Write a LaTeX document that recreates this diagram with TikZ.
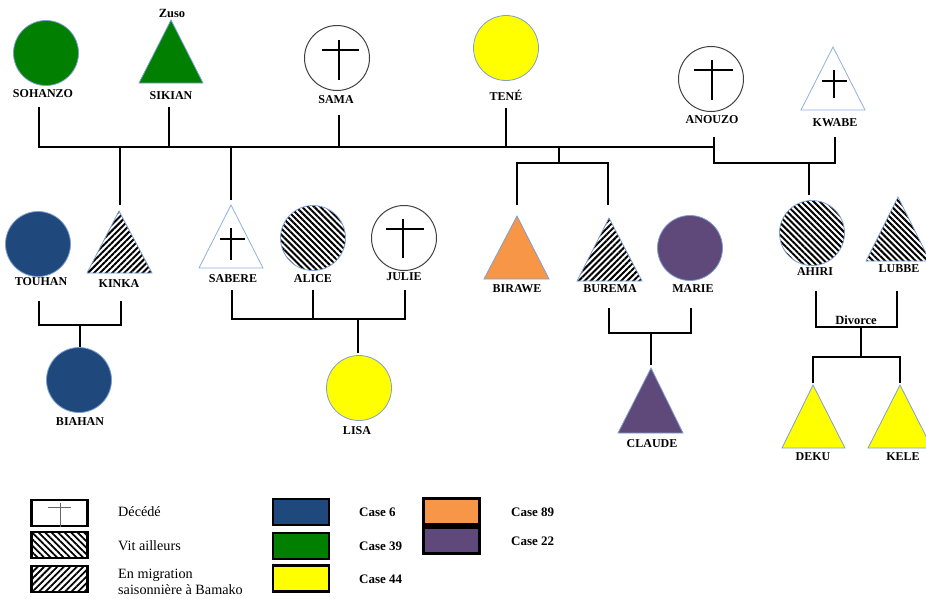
\documentclass[tikz,border=0pt]{standalone}
\usepackage{fontspec}
\setmainfont{Liberation Serif}
\usetikzlibrary{patterns.meta}
\definecolor{caseblue}{HTML}{1F497D}
\definecolor{casegreen}{HTML}{007F00}
\definecolor{caseyellow}{HTML}{FFFF00}
\definecolor{caseorange}{HTML}{F79646}
\definecolor{casepurple}{HTML}{5F497A}
\definecolor{outl}{HTML}{7F9FD0}
\definecolor{triout}{HTML}{8EB0DE}
\begin{document}
\begin{tikzpicture}[x=1pt,y=-1pt,
  link/.style={line width=2.6pt, black, line join=miter},
  lbl/.style={font=\fontsize{12}{12}\selectfont\bfseries, inner sep=0},
  note/.style={font=\fontsize{12.5}{13}\selectfont\bfseries, inner sep=0},
  legtxt/.style={font=\fontsize{14.2}{16}\selectfont, inner sep=0, anchor=west, align=left},
  casetxt/.style={font=\fontsize{13}{14}\selectfont\bfseries, inner sep=0, anchor=west},
  person/.style={circle, minimum size=65pt, inner sep=0, draw=outl, line width=0.8pt},
  dead/.style={person, draw=black!75, line width=1pt, fill=white},
  tri/.style={draw=outl, line width=0.8pt, line join=miter},
  crossline/.style={line width=2.8pt, black},
  hatchnw/.style={pattern={Lines[angle=-45,distance=4.3pt,line width=2pt]}},
  hatchne/.style={pattern={Lines[angle=45,distance=4.3pt,line width=2pt]}},
  leghatchnw/.style={pattern={Lines[angle=-45,distance=4.6pt,line width=1.8pt]}},
  leghatchne/.style={pattern={Lines[angle=45,distance=4.6pt,line width=1.8pt]}},
  legbox/.style={draw=black, line width=2.4pt, minimum width=56pt, minimum height=26pt, inner sep=0}
]
\useasboundingbox (0,0) rectangle (926,598);

% ---------- generation 1 ----------
\node[person, fill=casegreen] (sohanzo) at (46,53) {};
\node[lbl] (sohanzoL) at (43,94) {SOHANZO};

\draw[tri, fill=casegreen] (171,20) -- (139,83) -- (203,83) -- cycle;
\coordinate (sikian) at (171,60);
\node[note] (zuso) at (172,13) {Zuso};
\node[lbl] (sikianL) at (171,96) {SIKIAN};

\node[dead] (sama) at (337,58) {};
\draw[crossline] (339,40) -- (339,80) (322,50) -- (359,50);
\node[lbl] (samaL) at (336,100) {SAMA};

\node[person, fill=caseyellow] (tene) at (506,48) {};
\node[lbl] (teneL) at (506,95) {TENÉ};

\node[dead] (anouzo) at (711,79) {};
\draw[crossline] (712,60) -- (712,100) (694,70) -- (733,70);
\node[lbl] (anouzoL) at (712,120) {ANOUZO};

\draw[tri, draw=triout, fill=white] (833,47) -- (801,110) -- (865,110) -- cycle;
\coordinate (kwabe) at (833,87);
\draw[crossline] (834,70) -- (834,98) (822,81) -- (847,81);
\node[lbl] (kwabeL) at (835,123) {KWABE};

% ---------- generation 2 ----------
\node[person, fill=caseblue] (touhan) at (38,244) {};
\node[lbl] (touhanL) at (41,282) {TOUHAN};

\draw[tri, hatchne] (119,211) -- (87,273) -- (152,273) -- cycle;
\coordinate (kinka) at (119,250);
\node[lbl] (kinkaL) at (119,284) {KINKA};

\draw[tri, draw=triout, fill=white] (231,205) -- (199,268) -- (263,268) -- cycle;
\coordinate (sabere) at (231,245);
\draw[crossline] (231,228) -- (231,260) (220,239) -- (245,239);
\node[lbl] (sabereL) at (233,279) {SABERE};

\node[person, hatchnw] (alice) at (313,238) {};
\node[lbl] (aliceL) at (313,279) {ALICE};

\node[dead] (julie) at (404,238) {};
\draw[crossline] (403,219) -- (403,258) (386,229) -- (424,229);
\node[lbl] (julieL) at (404,277) {JULIE};

\draw[tri, fill=caseorange] (517,216) -- (484,279) -- (549,279) -- cycle;
\coordinate (birawe) at (517,255);
\node[lbl] (biraweL) at (517,289) {BIRAWE};

\draw[tri, hatchne] (609,218) -- (577,281) -- (642,281) -- cycle;
\coordinate (burema) at (609,257);
\node[lbl] (buremaL) at (610,289) {BUREMA};

\node[person, fill=casepurple] (marie) at (690,248) {};
\node[lbl] (marieL) at (693,289) {MARIE};

\node[person, hatchnw] (ahiri) at (812,233) {};
\node[lbl] (ahiriL) at (815,272) {AHIRI};

\draw[tri, hatchnw] (898,197) -- (866,261) -- (930,261) -- cycle;
\coordinate (lubbe) at (898,236);
\node[lbl] (lubbeL) at (899,269) {LUBBE};

% ---------- generation 3 ----------
\node[person, fill=caseblue] (biahan) at (79,380) {};
\node[lbl] (biahanL) at (80,422) {BIAHAN};

\node[person, fill=caseyellow] (lisa) at (359,388) {};
\node[lbl] (lisaL) at (357,431) {LISA};

\draw[tri, fill=casepurple] (651,368) -- (618,433) -- (683,433) -- cycle;
\coordinate (claude) at (651,408);
\node[lbl] (claudeL) at (652,444) {CLAUDE};

\draw[tri, fill=caseyellow] (813,385) -- (782,448) -- (845,448) -- cycle;
\coordinate (deku) at (813,424);
\node[lbl] (dekuL) at (813,457) {DEKU};

\draw[tri, fill=caseyellow] (900,385) -- (868,448) -- (932,448) -- cycle;
\coordinate (kele) at (900,424);
\node[lbl] (keleL) at (903,457) {KELE};

\node[note] (divorce) at (856,320) {Divorce};

% ---------- connectors ----------
\coordinate (c-soh) at (39,107);
\coordinate (c-sik) at (169,107);
\coordinate (c-sama) at (339,115);
\coordinate (c-tene) at (506,108);
\coordinate (c-anou) at (714,137);
\coordinate (c-kwa) at (835,137);
\coordinate (j-main) at (714,147);
\coordinate (j-ak) at (714,163);
\coordinate (d-kinka) at (120,205);
\coordinate (d-sabere) at (231,200);
\coordinate (j-sib0) at (559,147);
\coordinate (j-sib) at (559,163);
\coordinate (d-birawe) at (517,205);
\coordinate (d-burema) at (608,205);
\coordinate (j-ahiri) at (809,163);
\coordinate (d-ahiri) at (809,195);

\draw[link] (c-soh) |- (j-main);
\draw[link] (c-sik) -- (c-sik |- j-main);
\draw[link] (c-sama) -- (c-sama |- j-main);
\draw[link] (c-tene) -- (c-tene |- j-main);
\draw[link] (c-anou) -- (j-ak) -| (c-kwa);
\draw[link] (d-kinka |- j-main) -- (d-kinka);
\draw[link] (d-sabere |- j-main) -- (d-sabere);
\draw[link] (j-sib0) -- (j-sib);
\draw[link] (d-birawe) |- (j-sib) -| (d-burema);
\draw[link] (j-ahiri) -- (d-ahiri);

% couple Touhan - Kinka
\coordinate (c-tou) at (39,301);
\coordinate (c-kin) at (121,301);
\coordinate (j-tk) at (80,325);
\coordinate (d-bia) at (80,347);
\draw[link] (c-tou) |- (j-tk) -| (c-kin);
\draw[link] (j-tk) -- (d-bia);

% Sabere - Alice - Julie
\coordinate (c-sab) at (232,290);
\coordinate (c-ali) at (313,290);
\coordinate (c-jul) at (405,290);
\coordinate (j-saj) at (358,319);
\coordinate (d-lisa) at (358,353);
\draw[link] (c-sab) |- (j-saj) -| (c-jul);
\draw[link] (c-ali) -- (c-ali |- j-saj);
\draw[link] (j-saj) -- (d-lisa);

% Burema - Marie
\coordinate (c-bur) at (609,308);
\coordinate (c-mar) at (691,308);
\coordinate (j-bm) at (651,333);
\coordinate (d-cla) at (651,365);
\draw[link] (c-bur) |- (j-bm) -| (c-mar);
\draw[link] (j-bm) -- (d-cla);

% Ahiri - Lubbe
\coordinate (c-ahi) at (816,291);
\coordinate (c-lub) at (897,291);
\coordinate (j-al) at (861,327);
\coordinate (j-kids) at (861,357);
\coordinate (d-deku) at (813,383);
\coordinate (d-kele) at (900,383);
\draw[link] (c-ahi) |- (j-al) -| (c-lub);
\draw[link] (j-al) -- (j-kids);
\draw[link] (d-deku) |- (j-kids) -| (d-kele);

% ---------- legend ----------
\node[legbox, fill=white] (lg-dead) at (59.5,513) {};
\draw[black!60, line width=0.9pt] (60,503) -- (lg-dead.south -| 60,0) (48,507) -- (71,507);
\node[legbox, leghatchnw] (lg-away) at (59.5,545) {};
\node[legbox, leghatchne] (lg-migr) at (59.5,579) {};
\node[legtxt] (t-dead) at (118,512) {Décédé};
\node[legtxt] (t-away) at (118,546) {Vit ailleurs};
\node[legtxt] (t-migr) at (118,582) {En migration\\saisonnière à Bamako};

\node[legbox, fill=caseblue] (lg6) at (301,512) {};
\node[legbox, fill=casegreen] (lg39) at (301,546) {};
\node[legbox, fill=caseyellow] (lg44) at (301,578.5) {};
\node[legbox, fill=caseorange] (lg89) at (451.5,511.5) {};
\node[legbox, fill=casepurple] (lg22) at (451.5,540.5) {};
\node[casetxt] (t6) at (359,512) {Case 6};
\node[casetxt] (t39) at (359,546) {Case 39};
\node[casetxt] (t44) at (359,579) {Case 44};
\node[casetxt] (t89) at (511,512) {Case 89};
\node[casetxt] (t22) at (511,541) {Case 22};
\end{tikzpicture}
\end{document}
